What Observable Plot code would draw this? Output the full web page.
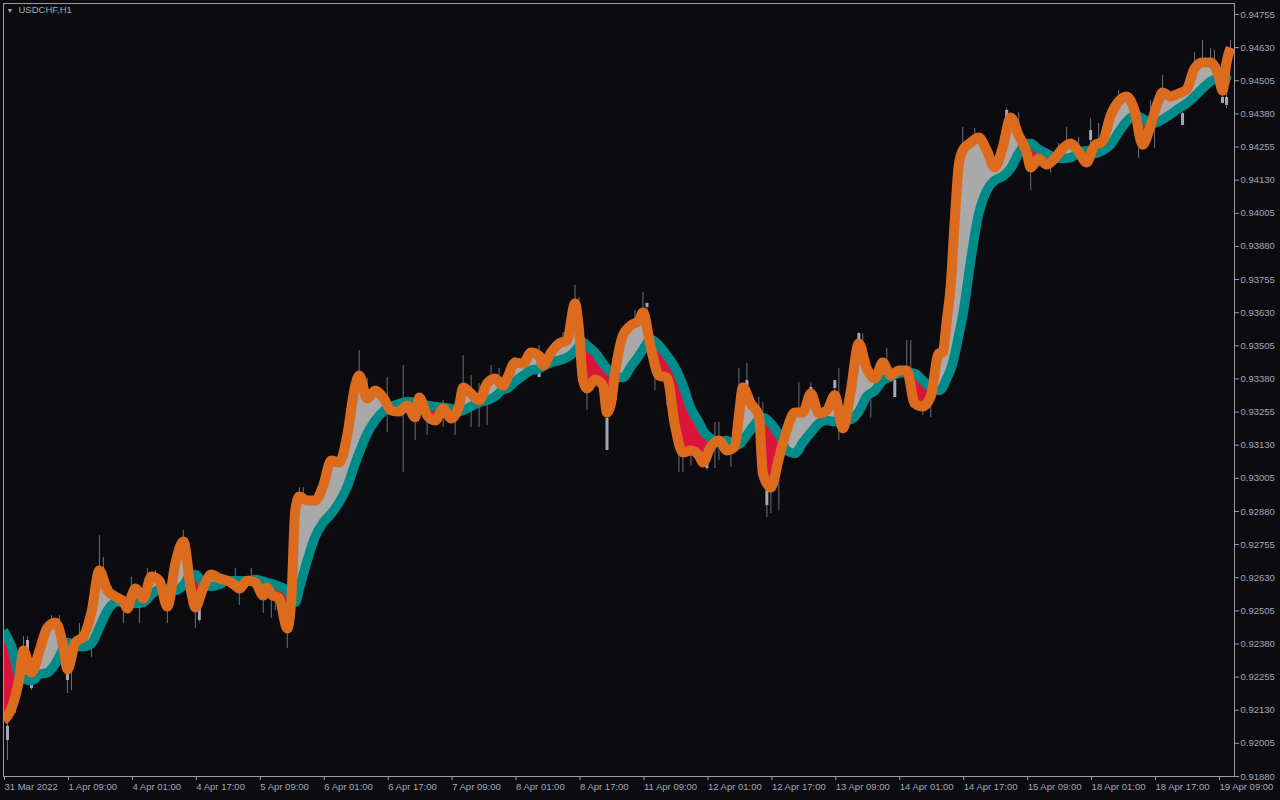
<!DOCTYPE html>
<html>
<head>
<meta charset="utf-8">
<script src="https://cdn.jsdelivr.net/npm/d3@7"></script>
<script src="https://cdn.jsdelivr.net/npm/@observablehq/plot@0.6"></script>
<style>
  html, body { margin: 0; padding: 0; background: #0b0b10; overflow: hidden; }
  #chart { width: 1280px; height: 800px; }
</style>
</head>
<body>
<div id="chart"></div>
<script>
const symbolLabel = "USDCHF,H1";

const timeLabels = ["31 Mar 2022","1 Apr 09:00","4 Apr 01:00","4 Apr 17:00","5 Apr 09:00","6 Apr 01:00","6 Apr 17:00","7 Apr 09:00","8 Apr 01:00","8 Apr 17:00","11 Apr 09:00","12 Apr 01:00","12 Apr 17:00","13 Apr 09:00","14 Apr 01:00","14 Apr 17:00","15 Apr 09:00","18 Apr 01:00","18 Apr 17:00","19 Apr 09:00"];

const priceTicks = [0.91880,0.92005,0.92130,0.92255,0.92380,0.92505,0.92630,0.92755,0.92880,0.93005,0.93130,0.93255,0.93380,0.93505,0.93630,0.93755,0.93880,0.94005,0.94130,0.94255,0.94380,0.94505,0.94630,0.94755];

// bar index (H1 bars from 31 Mar 2022 17:00)
const bars = [0,2,4,5,7,9,11,13,15,16,18,20,22,24,26,28,30,31,32,33,35,37,39,41,43,45,47,48,50,52,54,56,58,59,61,63,65,66,67,69,71,72,73,74,76,78,80,82,84,86,88,89,91,93,95,97,99,101,103,104,106,108,110,112,114,115,117,119,121,123,125,126,128,130,132,134,135,137,139,141,143,144,145,146,148,150,151,152,153,155,157,159,160,162,164,166,168,170,172,174,175,177,179,181,183,184,185,187,189,190,192,194,196,198,200,202,204,206,208,210,212,214,216,218,220,222,224,226,228,230,232,234,235,236,237,238,239,240,242,244,246,248,250,252,254,256,257,259,261,263,265,267,269,271,273,275,277,279,281,283,285,287,289,290,292,294,296,298,300,302,304,305,306,307];

// fast moving average (orange)
const fastMA = [0.92091,0.92137,0.92254,0.92355,0.92272,0.92355,0.92442,0.92461,0.92367,0.92284,0.92386,0.92408,0.92499,0.92657,0.92582,0.92559,0.92540,0.92514,0.92559,0.92589,0.92552,0.92635,0.92619,0.92521,0.92684,0.92767,0.92574,0.92518,0.92593,0.92642,0.92627,0.92619,0.92601,0.92589,0.92619,0.92612,0.92563,0.92593,0.92567,0.92552,0.92438,0.92544,0.92884,0.92936,0.92921,0.92921,0.92978,0.93072,0.93065,0.93167,0.93355,0.93393,0.93306,0.93336,0.93310,0.93261,0.93257,0.93280,0.93235,0.93310,0.93242,0.93223,0.93268,0.93231,0.93280,0.93348,0.93325,0.93299,0.93363,0.93382,0.93355,0.93382,0.93442,0.93438,0.93480,0.93468,0.93431,0.93480,0.93514,0.93525,0.93665,0.93563,0.93374,0.93344,0.93378,0.93355,0.93253,0.93287,0.93401,0.93544,0.93582,0.93600,0.93631,0.93495,0.93393,0.93385,0.93204,0.93102,0.93110,0.93091,0.93065,0.93125,0.93148,0.93110,0.93125,0.93242,0.93348,0.93287,0.93242,0.93023,0.92970,0.93080,0.93189,0.93253,0.93253,0.93325,0.93250,0.93261,0.93318,0.93193,0.93336,0.93514,0.93419,0.93382,0.93442,0.93393,0.93412,0.93412,0.93287,0.93276,0.93314,0.93476,0.93480,0.93600,0.93733,0.93978,0.94185,0.94242,0.94272,0.94291,0.94242,0.94178,0.94253,0.94366,0.94299,0.94234,0.94178,0.94212,0.94189,0.94212,0.94249,0.94268,0.94238,0.94197,0.94261,0.94276,0.94374,0.94427,0.94446,0.94393,0.94264,0.94336,0.94431,0.94461,0.94446,0.94457,0.94472,0.94551,0.94574,0.94574,0.94525,0.94468,0.94574,0.94630];

// slow moving average (teal)
const slowMA = [0.92431,0.92370,0.92261,0.92250,0.92242,0.92265,0.92272,0.92306,0.92363,0.92386,0.92374,0.92370,0.92382,0.92442,0.92506,0.92537,0.92540,0.92537,0.92533,0.92533,0.92537,0.92567,0.92586,0.92589,0.92582,0.92601,0.92642,0.92642,0.92608,0.92597,0.92604,0.92619,0.92619,0.92619,0.92619,0.92623,0.92616,0.92612,0.92608,0.92597,0.92582,0.92552,0.92537,0.92589,0.92695,0.92786,0.92838,0.92872,0.92914,0.92974,0.93061,0.93102,0.93174,0.93223,0.93257,0.93276,0.93287,0.93295,0.93291,0.93287,0.93280,0.93276,0.93272,0.93268,0.93257,0.93261,0.93276,0.93291,0.93299,0.93314,0.93340,0.93344,0.93370,0.93393,0.93412,0.93419,0.93427,0.93442,0.93450,0.93461,0.93484,0.93506,0.93518,0.93506,0.93480,0.93438,0.93419,0.93404,0.93389,0.93385,0.93427,0.93468,0.93491,0.93529,0.93506,0.93468,0.93423,0.93355,0.93268,0.93216,0.93185,0.93155,0.93140,0.93148,0.93133,0.93133,0.93148,0.93189,0.93227,0.93235,0.93212,0.93170,0.93110,0.93099,0.93140,0.93178,0.93212,0.93223,0.93219,0.93223,0.93227,0.93257,0.93314,0.93336,0.93374,0.93389,0.93401,0.93404,0.93401,0.93374,0.93348,0.93336,0.93348,0.93382,0.93416,0.93472,0.93544,0.93619,0.93827,0.94004,0.94091,0.94129,0.94144,0.94174,0.94231,0.94268,0.94268,0.94246,0.94231,0.94215,0.94212,0.94215,0.94234,0.94242,0.94231,0.94242,0.94264,0.94310,0.94351,0.94374,0.94363,0.94344,0.94351,0.94359,0.94378,0.94400,0.94419,0.94446,0.94476,0.94502,0.94514,0.94514,0.94510,0.94506];

// visible candle wicks
const wickBars = [1,3,5,6,7,10,12,14,16,17,19,22,24,25,27,30,32,34,36,38,41,45,46,48,49,58,59,62,65,67,68,71,74,75,89,91,96,100,103,106,110,113,115,117,119,121,122,124,128,134,140,143,144,146,151,158,160,161,163,166,169,170,172,176,178,179,182,184,186,189,190,191,192,194,199,202,204,208,209,214,215,216,217,219,221,223,226,227,230,232,234,240,243,246,251,254,257,259,262,264,266,269,272,274,279,284,287,288,290,295,298,300,302,303,305,306,307];
const wickHigh = [0.92148,0.92186,0.92408,0.92408,0.92280,0.92431,0.92487,0.92487,0.92318,0.92337,0.92457,0.92525,0.92789,0.92706,0.92597,0.92552,0.92631,0.92582,0.92665,0.92657,0.92544,0.92808,0.92778,0.92544,0.92544,0.92665,0.92620,0.92665,0.92582,0.92620,0.92601,0.92469,0.92970,0.92970,0.93487,0.93382,0.93385,0.93431,0.93261,0.93280,0.93299,0.93261,0.93468,0.93393,0.93363,0.93374,0.93431,0.93419,0.93461,0.93506,0.93555,0.93733,0.93687,0.93374,0.93280,0.93638,0.93706,0.93665,0.93506,0.93404,0.93148,0.93129,0.93129,0.93110,0.93216,0.93216,0.93110,0.93419,0.93438,0.93310,0.93291,0.92978,0.92978,0.93072,0.93367,0.93367,0.93261,0.93374,0.93419,0.93555,0.93551,0.93450,0.93393,0.93450,0.93495,0.93393,0.93525,0.93525,0.93299,0.93336,0.93495,0.94329,0.94325,0.94268,0.94400,0.94385,0.94223,0.94242,0.94223,0.94268,0.94329,0.94291,0.94363,0.94344,0.94468,0.94336,0.94431,0.94393,0.94525,0.94468,0.94612,0.94657,0.94627,0.94619,0.94487,0.94468,0.94657];
const wickLow = [0.91940,0.92118,0.92337,0.92318,0.92204,0.92374,0.92431,0.92423,0.92193,0.92204,0.92393,0.92329,0.92638,0.92620,0.92544,0.92457,0.92544,0.92457,0.92582,0.92601,0.92457,0.92733,0.92695,0.92438,0.92461,0.92582,0.92525,0.92601,0.92495,0.92476,0.92506,0.92363,0.92902,0.92902,0.93355,0.93280,0.93178,0.93027,0.93148,0.93167,0.93197,0.93167,0.93318,0.93197,0.93197,0.93204,0.93336,0.93336,0.93404,0.93385,0.93487,0.93638,0.93525,0.93261,0.93110,0.93563,0.93608,0.93600,0.93336,0.93280,0.93027,0.93027,0.93050,0.93035,0.93042,0.93072,0.93046,0.93261,0.93336,0.93223,0.93016,0.92857,0.92872,0.92884,0.93253,0.93318,0.93193,0.93299,0.93148,0.93487,0.93450,0.93393,0.93231,0.93374,0.93393,0.93310,0.93393,0.93374,0.93242,0.93234,0.93412,0.94204,0.94261,0.94204,0.94317,0.94280,0.94091,0.94178,0.94155,0.94204,0.94242,0.94204,0.94261,0.94242,0.94412,0.94212,0.94280,0.94249,0.94431,0.94336,0.94525,0.94544,0.94544,0.94544,0.94419,0.94400,0.94581];

// visible candle bodies
const bodyBars = [1,6,7,16,49,134,151,161,176,186,191,202,208,214,223,251,272,295,305,306];
const bodyTop = [0.92069,0.92393,0.92254,0.92269,0.92525,0.93419,0.93231,0.93665,0.93091,0.93374,0.92959,0.93348,0.93374,0.93551,0.93374,0.94393,0.94317,0.94381,0.94442,0.94442];
const bodyBottom = [0.92016,0.92329,0.92212,0.92242,0.92469,0.93385,0.93110,0.93650,0.93042,0.93351,0.92902,0.93329,0.93344,0.93525,0.93310,0.94366,0.94280,0.94336,0.94419,0.94412];

// ---- build tables ----
const series = bars.map((b, i) => ({bar: b, fast: fastMA[i], slow: slowMA[i]}));
const wicks = wickBars.map((b, i) => ({bar: b, high: wickHigh[i], low: wickLow[i]}));
const bodies = bodyBars.map((b, i) => ({bar: b, top: bodyTop[i], bottom: bodyBottom[i]}));
const timeTicks = timeLabels.map((_, i) => i * 16);

const TXT = "#a3a8b4";
const AX = "#9a9aa2";
const CURVE = "monotone-x";

const chart = Plot.plot({
  width: 1280,
  height: 800,
  marginTop: 3,
  marginRight: 46,
  marginBottom: 24,
  marginLeft: 3,
  style: {background: "#0b0b10", color: TXT, fontFamily: "'Liberation Sans', Arial, sans-serif", fontSize: "9.5px"},
  x: {type: "linear", domain: [0, 308], axis: null},
  y: {type: "linear", domain: [0.9188, 0.947965], axis: null},
  marks: [
    Plot.ruleX(wicks, {x: "bar", y1: "low", y2: "high", stroke: "#6e6f78", strokeWidth: 1, clip: true}),
    Plot.ruleX(bodies, {x: "bar", y1: "bottom", y2: "top", stroke: "#a4a8b5", strokeWidth: 3, clip: true}),
    Plot.areaY(series, {x: "bar", y1: "slow", y2: d => Math.max(d.fast, d.slow), fill: "#a9a9a9", curve: CURVE, clip: true}),
    Plot.areaY(series, {x: "bar", y1: "slow", y2: d => Math.min(d.fast, d.slow), fill: "#dc143c", curve: CURVE, clip: true}),
    Plot.line(series, {x: "bar", y: "slow", stroke: "#008b8b", strokeWidth: 9.5, strokeLinejoin: "round", strokeLinecap: "butt", curve: CURVE, clip: true}),
    Plot.line(series, {x: "bar", y: "fast", stroke: "#dc6b1e", strokeWidth: 10, strokeLinejoin: "round", strokeLinecap: "butt", curve: CURVE, clip: true}),
    Plot.frame({stroke: AX}),
    Plot.axisY({anchor: "right", ticks: priceTicks, tickFormat: d => d.toFixed(5), tickSize: 4, tickPadding: 2, label: null, color: TXT, stroke: AX}),
    Plot.axisX({ticks: timeTicks, tickFormat: d => timeLabels[Math.round(d / 16)], tickSize: 4, tickPadding: 3, textAnchor: "start", dx: 1, label: null, color: TXT, stroke: AX}),
    Plot.text(["\u25BC"], {frameAnchor: "top-left", dx: 3, dy: 5, textAnchor: "start", lineAnchor: "top", fontSize: 7, fill: TXT}),
    Plot.text([symbolLabel], {frameAnchor: "top-left", dx: 15, dy: 3, textAnchor: "start", lineAnchor: "top", fill: TXT, fontSize: 9.5})
  ]
});
document.getElementById("chart").appendChild(chart);
</script>
</body>
</html>
